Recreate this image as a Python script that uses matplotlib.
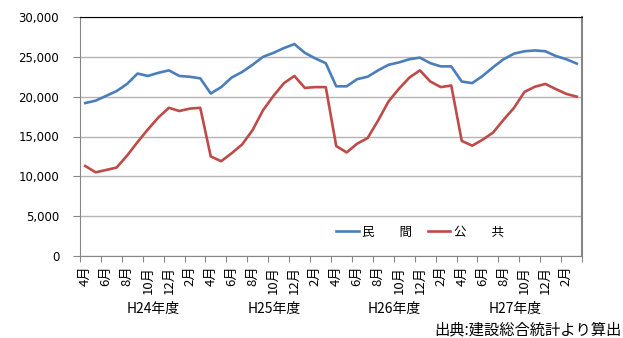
import numpy as np
import matplotlib
matplotlib.use("Agg")
from matplotlib import pyplot as plt

plt.rcParams['font.family'] = ['Noto Sans CJK JP', 'DejaVu Sans']

# monthly values, H24 April .. H27 March
months = ['4月', '5月', '6月', '7月', '8月', '9月', '10月', '11月', '12月', '1月', '2月', '3月'] * 4
years = ['H24年度', 'H25年度', 'H26年度', 'H27年度']

minkan = [19200, 19500, 20100, 20700, 21600, 22900, 22600, 23000, 23300, 22600, 22500, 22300,
          20400, 21200, 22400, 23100, 24000, 25000, 25500, 26100, 26600, 25500, 24800, 24200,
          21300, 21300, 22200, 22500, 23300, 24000, 24300, 24700, 24900, 24200, 23800, 23800,
          21900, 21700, 22600, 23700, 24700, 25400, 25700, 25800, 25700, 25100, 24700, 24150]

koukyou = [11300, 10500, 10800, 11100, 12600, 14300, 15900, 17400, 18600, 18200, 18500, 18600,
           12500, 11900, 12900, 14000, 15800, 18300, 20100, 21700, 22600, 21100, 21200, 21200,
           13800, 13000, 14100, 14800, 17000, 19400, 21000, 22400, 23300, 21900, 21200, 21400,
           14450, 13850, 14600, 15500, 17100, 18600, 20600, 21250, 21600, 20950, 20350, 20000]

x = np.arange(len(months))

fig = plt.figure(figsize=(6.23, 3.38), dpi=100)
ax = fig.add_axes([80 / 623, 1 - 256 / 338, 502 / 623, 239 / 338])

ax.plot(x, minkan, color='#4a7ebb', lw=1.9, label='民　　間')
ax.plot(x, koukyou, color='#be4b48', lw=1.9, label='公　　共')

ax.set_xlim(-0.5, len(months) - 0.5)
ax.set_ylim(0, 30000)
ax.set_yticks(np.arange(0, 30001, 5000))
ax.set_yticklabels(['{:,}'.format(v) for v in range(0, 30001, 5000)],
                   family='DejaVu Sans', fontsize=8.5)
ax.yaxis.grid(True, color='#b4b4b4', lw=1)
ax.set_axisbelow(True)

# tick marks between every two months, labels on every other month
ax.set_xticks(np.arange(-0.5, len(months), 2))
ax.set_xticklabels([])
ax.set_xticks(x[::2], minor=True)
ax.set_xticklabels(months[::2], minor=True, rotation=90, fontsize=9.5, va='top')
ax.tick_params(axis='x', which='major', length=4, color='#868686', direction='out')
ax.tick_params(axis='x', which='minor', length=0, pad=7)
ax.tick_params(axis='y', length=5, color='#868686', pad=10)

for s in ['left', 'bottom']:
    ax.spines[s].set_color('#868686')
ax.spines['top'].set_color('black')
ax.spines['right'].set_color('#868686')
ax.spines['right'].set_linewidth(1.5)

for yr, px in zip(years, [153, 274, 394.5, 515.5]):
    fig.text(px / 623, 1 - 309 / 338, yr, ha='center', va='center', fontsize=10)

ax.legend(loc='center', bbox_to_anchor=((420 - 80) / 502, 24 / 239), ncol=2,
          frameon=False, fontsize=9, handlelength=1.8, handletextpad=0.3,
          columnspacing=1.2)

fig.text(622 / 623, 1 - 330 / 338, '出典:建設総合統計より算出', ha='right', va='center',
         fontsize=11)

fig.savefig('out.png', dpi=100)
